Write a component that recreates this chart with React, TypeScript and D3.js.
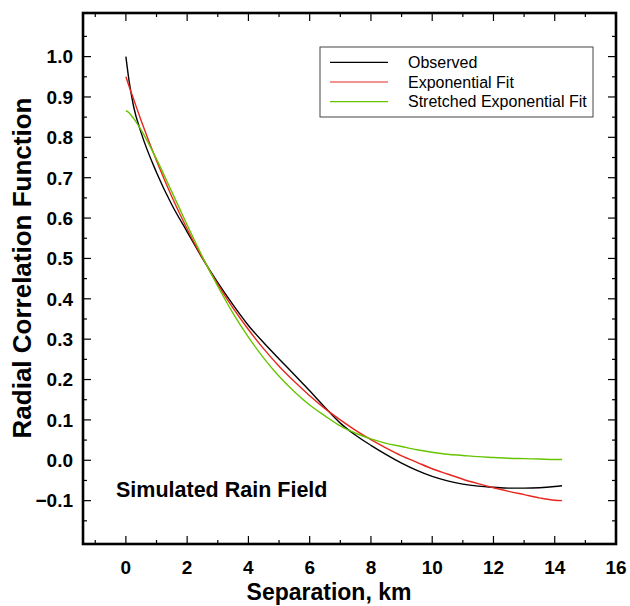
import React from "react";
import * as d3 from "d3";

const separation = [0, 0.1, 0.25, 0.5, 1, 1.5, 2, 2.5, 3, 3.5, 4, 4.5, 5, 5.5, 6, 6.5, 7, 7.5, 8, 8.5, 9, 9.5, 10, 10.5, 11, 11.5, 12, 12.5, 13, 13.5, 14, 14.24];
const observed = [1.0, 0.942, 0.877, 0.811, 0.713, 0.633, 0.566, 0.5, 0.44, 0.385, 0.334, 0.291, 0.251, 0.212, 0.172, 0.131, 0.092, 0.062, 0.037, 0.014, -0.007, -0.025, -0.04, -0.051, -0.059, -0.064, -0.067, -0.069, -0.069, -0.068, -0.065, -0.063];
const expFit = [0.95, 0.927, 0.895, 0.841, 0.742, 0.653, 0.573, 0.501, 0.436, 0.377, 0.324, 0.276, 0.233, 0.195, 0.16, 0.128, 0.1, 0.074, 0.051, 0.03, 0.011, -0.005, -0.021, -0.034, -0.047, -0.058, -0.068, -0.077, -0.085, -0.093, -0.099, -0.1];
const stretchedFit = [0.866, 0.861, 0.847, 0.818, 0.746, 0.665, 0.583, 0.504, 0.431, 0.364, 0.305, 0.253, 0.208, 0.17, 0.137, 0.11, 0.085, 0.067, 0.053, 0.042, 0.034, 0.026, 0.02, 0.015, 0.012, 0.009, 0.007, 0.005, 0.004, 0.003, 0.002, 0.002];

const seriesNames = ["Observed", "Exponential Fit", "Stretched Exponential Fit"];
const seriesColors = ["#000000", "#e8261e", "#66c400"];
const xMajorTicks = [0, 2, 4, 6, 8, 10, 12, 14, 16];
const xMinorTicks = [-1, 1, 3, 5, 7, 9, 11, 13, 15];
const yMajorTicks = [-0.1, 0.0, 0.1, 0.2, 0.3, 0.4, 0.5, 0.6, 0.7, 0.8, 0.9, 1.0];
const yMinorTicks = [-0.15, -0.05, 0.05, 0.15, 0.25, 0.35, 0.45, 0.55, 0.65, 0.75, 0.85, 0.95, 1.05];

const W = 630;
const H = 606;
const L = 83, R = 616, T = 13, B = 544;
const FONT = "'Liberation Sans', Arial, Helvetica, sans-serif";

export default function App() {
  const x = d3.scaleLinear().domain([-1.4, 16]).range([L, R]);
  const y = d3.scaleLinear().domain([-0.2074, 1.108]).range([B, T]);
  const seriesValues = [observed, expFit, stretchedFit];
  const line = d3
    .line<[number, number]>()
    .x((d) => x(d[0]))
    .y((d) => y(d[1]))
    .curve(d3.curveMonotoneX);

  const major = 8, minor = 4;
  const legendX = 320, legendY = 47;
  const rowYs = [62.3, 82, 101.7];

  return (
    <svg width={W} height={H} style={{ position: "absolute", left: 0, top: 0, background: "#fff" }} fontFamily={FONT}>
      <rect x={0} y={0} width={W} height={H} fill="#fff" />
      {seriesValues.map((vals, i) => (
        <path
          key={i}
          d={line(separation.map((s, j) => [s, vals[j]] as [number, number])) || ""}
          fill="none"
          stroke={seriesColors[i]}
          strokeWidth={1.4}
        />
      ))}
      {/* ticks */}
      <g stroke="#000" strokeWidth={1.2}>
        {xMajorTicks.map((t) => (
          <g key={"xM" + t}>
            <line x1={x(t)} x2={x(t)} y1={B} y2={B - major} />
            <line x1={x(t)} x2={x(t)} y1={T} y2={T + major} />
          </g>
        ))}
        {xMinorTicks.map((t) => (
          <g key={"xm" + t}>
            <line x1={x(t)} x2={x(t)} y1={B} y2={B - minor} />
            <line x1={x(t)} x2={x(t)} y1={T} y2={T + minor} />
          </g>
        ))}
        {yMajorTicks.map((t) => (
          <g key={"yM" + t}>
            <line x1={L} x2={L + major} y1={y(t)} y2={y(t)} />
            <line x1={R} x2={R - major} y1={y(t)} y2={y(t)} />
          </g>
        ))}
        {yMinorTicks.map((t) => (
          <g key={"ym" + t}>
            <line x1={L} x2={L + minor} y1={y(t)} y2={y(t)} />
            <line x1={R} x2={R - minor} y1={y(t)} y2={y(t)} />
          </g>
        ))}
      </g>
      <rect x={L} y={T} width={R - L} height={B - T} fill="none" stroke="#000" strokeWidth={2.6} />
      {/* tick labels */}
      <g fontSize={19} fontWeight="bold" fill="#000">
        {xMajorTicks.map((t) => (
          <text key={"xl" + t} x={x(t)} y={574} textAnchor="middle">
            {d3.format("d")(t)}
          </text>
        ))}
        {yMajorTicks.map((t) => (
          <text key={"yl" + t} x={73} y={y(t)} dy="0.36em" textAnchor="end">
            {d3.format(".1f")(t)}
          </text>
        ))}
      </g>
      <text x={329} y={600} textAnchor="middle" fontSize={23} fontWeight="bold">
        Separation, km
      </text>
      <text
        transform={`translate(31,268) rotate(-90)`}
        textAnchor="middle"
        fontSize={26}
        fontWeight="bold"
      >
        Radial Correlation Function
      </text>
      <text x={116} y={497} fontSize={21.5} fontWeight="bold">
        Simulated Rain Field
      </text>
      {/* legend */}
      <rect x={legendX} y={legendY} width={273} height={70} fill="#fff" stroke="#444" strokeWidth={1} />
      {seriesNames.map((n, i) => (
        <g key={n}>
          <line x1={330} x2={388} y1={rowYs[i]} y2={rowYs[i]} stroke={seriesColors[i]} strokeWidth={1.2} />
          <text x={408} y={rowYs[i]} dy="0.36em" fontSize={16} fill="#000">
            {n}
          </text>
        </g>
      ))}
    </svg>
  );
}
